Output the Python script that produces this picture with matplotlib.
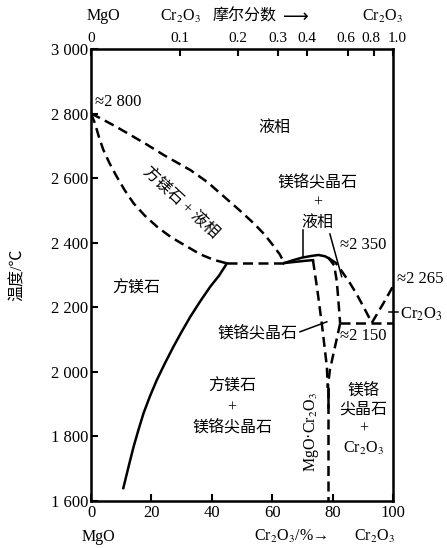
import matplotlib
matplotlib.use('Agg')
import matplotlib.pyplot as plt
from matplotlib.transforms import ScaledTranslation

plt.rcParams['font.family'] = ['Liberation Serif', 'Noto Sans CJK SC', 'DejaVu Sans']
plt.rcParams['mathtext.fontset'] = 'stix'

# ── data (wt% Cr2O3, temperature in degC) ─────────────────────────────────────
per_liq_x = [0, 3.0, 8, 13, 18.5, 24, 32.9, 38.5, 44, 49, 53.9, 57.5, 60.6, 62.5, 64]
per_liq_T = [2800, 2786, 2761, 2734, 2704, 2672, 2625, 2588, 2543, 2502, 2460, 2425, 2388, 2364, 2337]

per_sol_x = [0, 0.5, 1.3, 2.6, 4.1, 6.2, 8.5, 11.2, 14.1, 17.8, 21.8, 26.5, 31.8, 36.2, 40.6, 45]
per_sol_T = [2800, 2788, 2770, 2728, 2687, 2645, 2605, 2562, 2522, 2484, 2450, 2417, 2388, 2364, 2347, 2336]

per_solvus_x = [45, 42.4, 39.5, 36.2, 32.9, 30.0, 27.3, 24.5, 21.8, 19.5, 17.4, 15.7, 14.1, 12.4, 10.7]
per_solvus_T = [2336, 2298, 2264, 2219, 2171, 2124, 2078, 2027, 1975, 1924, 1872, 1820, 1768, 1705, 1640]

eut1_x = [45, 64]
eut1_T = [2336, 2336]

sp_liq_x = [64, 67, 70, 73, 75.3, 77.5, 79]
sp_liq_T = [2337, 2346, 2354, 2359, 2362, 2358, 2350]

cr_liq_x = [79, 81, 83.3, 85.8, 88, 90.2, 93]
cr_liq_T = [2350, 2338, 2308, 2274, 2240, 2202, 2152]

sp_sol_x = [64, 68, 71, 73.5]
sp_sol_T = [2337, 2341, 2344, 2346]

sp_left_x = [73.5, 75, 76.4, 77.3, 78.1, 78.4]
sp_left_T = [2346, 2250, 2151, 2080, 2016, 1950]

sp_right_x = [78.5, 80.5, 81.4, 82, 82.5]
sp_right_T = [2355, 2330, 2280, 2210, 2150]

sp_right_low_x = [82.5, 80.8, 79.1, 78.4]
sp_right_low_T = [2150, 2078, 2006, 1950]

eut2_x = [82.5, 100]
eut2_T = [2150, 2150]

cr_right_x = [93, 96.8, 100]
cr_right_T = [2152, 2212, 2265]

compound_x = 78.4
compound_T = [1950, 1600]
compound_solid_T = [1950, 1890]

mole_ticks = [0, 0.1, 0.2, 0.3, 0.4, 0.6, 0.8, 1.0]
mole_labels = ['0', '0.1', '0.2', '0.3', '0.4', '0.6', '0.8', '1.0']
wt_ticks = [0, 20, 40, 60, 80, 100]
T_ticks = [1600, 1800, 2000, 2200, 2400, 2600, 2800, 3000]

M_CR2O3, M_MGO = 152.0, 40.3


def mole_to_wt(x):
    return 100 * x * M_CR2O3 / (x * M_CR2O3 + (1 - x) * M_MGO)


fig = plt.figure(figsize=(4.47, 5.48), dpi=100)
ax = fig.add_axes([0.2036, 0.0858, 0.6756, 0.8248])

LW = 1.8
dash = (0, (4, 2.2))
kw_d = dict(color='black', lw=LW, linestyle=dash)
kw_s = dict(color='black', lw=LW)

ax.plot(per_liq_x, per_liq_T, **kw_d)
ax.plot(per_sol_x, per_sol_T, **kw_d)
ax.plot(per_solvus_x, per_solvus_T, **kw_s)
ax.plot(eut1_x, eut1_T, **kw_d)
ax.plot(sp_liq_x, sp_liq_T, **kw_s)
ax.plot(cr_liq_x, cr_liq_T, **kw_d)
ax.plot(sp_sol_x, sp_sol_T, **kw_s)
ax.plot(sp_left_x, sp_left_T, **kw_d)
ax.plot(sp_right_x, sp_right_T, **kw_d)
ax.plot(sp_right_low_x, sp_right_low_T, **kw_d)
ax.plot(eut2_x, eut2_T, **kw_d)
ax.plot(cr_right_x, cr_right_T, **kw_d)
ax.plot([compound_x, compound_x], compound_T, **kw_d)
ax.plot([compound_x, compound_x], compound_solid_T, **kw_s)

# leader lines
lk = dict(color='black', lw=1.1, clip_on=False)
ax.plot([70.2, 70.2], [2440, 2356], **lk)
ax.plot([79.1, 83.0], [2427, 2295], **lk)
ax.plot([69.2, 78.1], [2124, 2155], **lk)
ax.plot([98.7, 101.6], [2186, 2186], **lk)

ax.set_xlim(0, 100)
ax.set_ylim(1600, 3000)
ax.set_xticks(wt_ticks)
ax.set_xticklabels([str(v) for v in wt_ticks])
ax.set_yticks(T_ticks)
ax.set_yticklabels([f"{v // 1000} {v % 1000:03d}" for v in T_ticks])
ax.tick_params(direction='in', length=5, width=1.5, labelsize=12, pad=3)
ax.tick_params(axis='y', pad=2)
for s in ax.spines.values():
    s.set_linewidth(1.8)

top = ax.twiny()
top.set_xlim(0, 100)
top.set_xticks([mole_to_wt(m) for m in mole_ticks])
top.set_xticklabels(mole_labels)
top.tick_params(direction='in', length=5, width=1.5, labelsize=11, pad=3)
# nudge the crowded last two labels apart a little
top_lbls = top.get_xticklabels()
for lbl, dx in [(top_lbls[-3], -2), (top_lbls[-2], -3), (top_lbls[-1], 4)]:
    lbl.set_transform(lbl.get_transform() + ScaledTranslation(dx / 100, 0, fig.dpi_scale_trans))

ax.set_ylabel("温度/℃", fontsize=11.5, labelpad=18)

fs = 11.5
t = dict(fontsize=fs, ha='center', va='center')
ax.text(60.6, 2756, "液相", **t)
ax.text(29.5, 2523, "方镁石 + 液相", rotation=-43, **t)
ax.text(15.1, 2258, "方镁石", **t)
ax.text(46.7, 1890, "方镁石\n+\n镁铬尖晶石", linespacing=1.35, **t)
ax.text(74.9, 2524, "镁铬尖晶石\n+\n液相", linespacing=1.35, **t)
ax.text(68.5, 2117, "镁铬尖晶石", fontsize=fs, ha='right', va='center')
ax.text(73.1, 1815, r"MgO·Cr$_2$O$_3$", rotation=90, **t)
ax.text(90.2, 1850, "镁铬\n尖晶石\n+\n" + r"Cr$_2$O$_3$", linespacing=1.25, **t)

n = dict(fontsize=12, ha='left', va='center', clip_on=False)
ax.text(1.3, 2837, "≈2 800", **n)
ax.text(82.5, 2393, "≈2 350", **n)
ax.text(82.5, 2111, "≈2 150", **n)
ax.text(101.3, 2288, "≈2 265", **n)
ax.text(102.3, 2179, r"Cr$_2$O$_3$", **n)

# axis captions
c = dict(fontsize=11.5, ha='center', va='center', clip_on=False)
ax.text(2.3, 1488, "MgO", **c)
ax.text(66.2, 1490, r"Cr$_2$O$_3$/%→", **c)
ax.text(94.0, 1490, r"Cr$_2$O$_3$", **c)
ax.text(4.0, 3102, "MgO", **c)
ax.text(29.5, 3100, r"Cr$_2$O$_3$", **c)
ax.text(50.7, 3102, "摩尔分数", **c)
ax.text(67.8, 3100, "⟶", fontsize=13, ha='center', va='center', clip_on=False,
        family='DejaVu Sans')
ax.text(96.7, 3100, r"Cr$_2$O$_3$", **c)

plt.savefig("out.png", dpi=100)
plt.close()
